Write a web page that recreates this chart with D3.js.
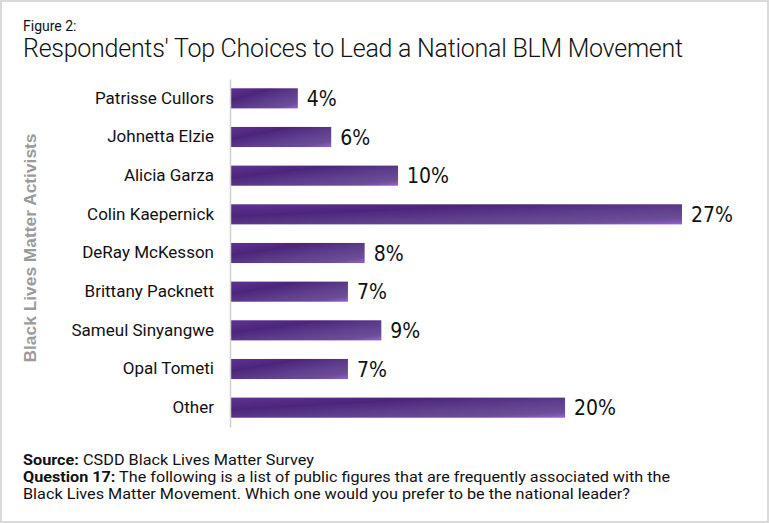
<!DOCTYPE html>
<html>
<head>
<meta charset="utf-8">
<script src="https://cdn.jsdelivr.net/npm/d3@7"></script>
<style>
  body { margin: 0; background: #fff; }
  svg { display: block; }
</style>
</head>
<body>
<svg id="chart"></svg>
<script>
const width = 769;
const height = 523;

// Data
const names = ["Patrisse Cullors", "Johnetta Elzie", "Alicia Garza", "Colin Kaepernick",
  "DeRay McKesson", "Brittany Packnett", "Sameul Sinyangwe", "Opal Tometi", "Other"];
const values = [4, 6, 10, 27, 8, 7, 9, 7, 20];

const svg = d3.select("#chart")
    .attr("width", width)
    .attr("height", height);

// light frame round the whole figure
svg.append("rect")
    .attr("x", 1).attr("y", 1)
    .attr("width", width - 2).attr("height", height - 2)
    .attr("fill", "#fff")
    .attr("stroke", "#dadada")
    .attr("stroke-width", 2);

// gradient used on every bar
const grad = svg.append("defs").append("linearGradient")
    .attr("id", "barGrad")
    .attr("x1", 0).attr("y1", 0).attr("x2", 1).attr("y2", 1);
[[0, "#5e3393"], [0.3, "#4c257b"], [0.6, "#5f3f8d"], [0.85, "#6c4d96"], [1, "#9462d2"]]
  .forEach(([o, c]) => grad.append("stop").attr("offset", o).attr("stop-color", c));

const x = d3.scaleLinear().domain([0, 27]).range([231, 682]);
const y = d3.scaleBand().domain(names).range([79, 427]).paddingInner(0.48).paddingOuter(0.24);

// Titles
svg.append("text")
    .attr("x", 23).attr("y", 31)
    .style("font", "14px Roboto")
    .attr("fill", "#111")
    .text("Figure 2:");

svg.append("text")
    .attr("x", 23).attr("y", 57)
    .style("font", "300 25px Roboto")
    .attr("fill", "#111")
    .attr("textLength", 660)
    .attr("lengthAdjust", "spacing")
    .text("Respondents' Top Choices to Lead a National BLM Movement");

// Y axis title
svg.append("text")
    .attr("transform", "translate(36,248) rotate(-90)")
    .attr("text-anchor", "middle")
    .style("font", "bold 17px 'Liberation Sans', Arial, sans-serif")
    .attr("fill", "#9b9b9b")
    .attr("textLength", 229)
    .attr("lengthAdjust", "spacingAndGlyphs")
    .text("Black Lives Matter Activists");

// Bars
svg.append("g")
  .selectAll("rect")
  .data(values)
  .join("rect")
    .attr("x", x(0))
    .attr("y", (d, i) => y(names[i]))
    .attr("width", d => x(d) - x(0))
    .attr("height", y.bandwidth())
    .attr("fill", "url(#barGrad)");

// Axis (category labels, no ticks)
const axis = svg.append("g")
    .attr("transform", `translate(${x(0) - 1},0)`)
    .call(d3.axisLeft(y).tickSize(0).tickPadding(16));
axis.select(".domain").attr("stroke", "#d0d0d0").attr("stroke-width", 1.5);
axis.selectAll("text")
    .style("font", "17px Roboto")
    .attr("fill", "#111");

// Value labels
svg.append("g")
  .selectAll("text")
  .data(values)
  .join("text")
    .attr("x", d => x(d) + 9)
    .attr("y", (d, i) => y(names[i]) + y.bandwidth() / 2)
    .attr("dy", "0.36em")
    .style("font", "21px 'Liberation Sans Narrow', 'DejaVu Sans Condensed', sans-serif")
    .attr("fill", "#111")
    .text(d => d + "%");

// Footer notes
const foot = svg.append("g").style("font", "15px Roboto").attr("fill", "#111");
const l1 = foot.append("text").attr("x", 23).attr("y", 465)
    .attr("textLength", 291).attr("lengthAdjust", "spacingAndGlyphs");
l1.append("tspan").attr("font-weight", "bold").text("Source:");
l1.append("tspan").text(" CSDD Black Lives Matter Survey");
const l2 = foot.append("text").attr("x", 23).attr("y", 482)
    .attr("textLength", 647).attr("lengthAdjust", "spacingAndGlyphs");
l2.append("tspan").attr("font-weight", "bold").text("Question 17:");
l2.append("tspan").text(" The following is a list of public figures that are frequently associated with the");
foot.append("text").attr("x", 23).attr("y", 499)
    .attr("textLength", 607).attr("lengthAdjust", "spacingAndGlyphs")
    .text("Black Lives Matter Movement. Which one would you prefer to be the national leader?");
</script>
</body>
</html>
